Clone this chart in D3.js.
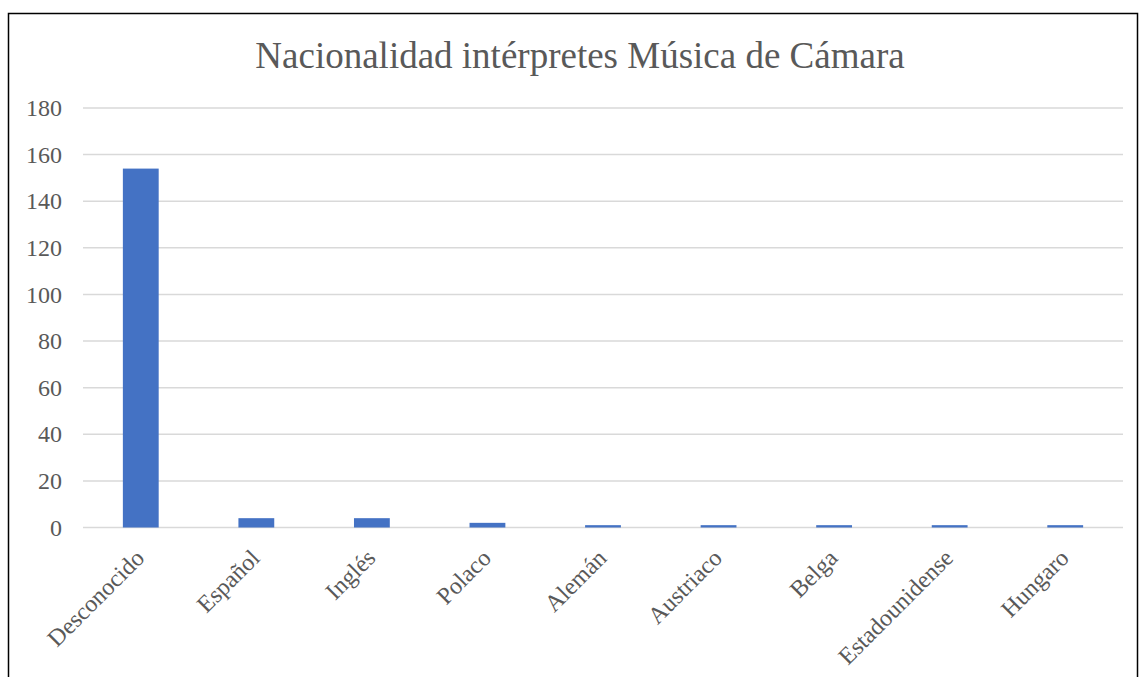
<!DOCTYPE html>
<html>
<head>
<meta charset="utf-8">
<script src="https://cdn.jsdelivr.net/npm/d3@7"></script>
<style>
  body { margin: 0; background: #fff; }
</style>
</head>
<body>
<div id="chart"></div>
<script>
// datos
var categorias = ["Desconocido", "Español", "Inglés", "Polaco", "Alemán", "Austriaco", "Belga", "Estadounidense", "Hungaro"];
var valores = [154, 4, 4, 2, 1, 1, 1, 1, 1];
var ticksY = [0, 20, 40, 60, 80, 100, 120, 140, 160, 180];
var titulo = "Nacionalidad intérpretes Música de Cámara";

var width = 1139,
    height = 677;
var fuente = "'Liberation Serif', 'Times New Roman', serif";

var svg = d3.select("#chart").append("svg")
    .attr("width", width)
    .attr("height", height);

// marco
svg.append("rect")
    .attr("x", 8.5)
    .attr("y", 13.5)
    .attr("width", 1129)
    .attr("height", 700)
    .attr("fill", "none")
    .attr("stroke", "#000")
    .attr("stroke-width", 1.5);

var plotLeft = 83, plotRight = 1123, plotTop = 108, plotBottom = 527.5;

var x = d3.scaleBand()
    .domain(categorias)
    .range([plotLeft, plotRight])
    .paddingInner(0.69)
    .paddingOuter(0.345);

var y = d3.scaleLinear()
    .domain([0, 180])
    .range([plotBottom, plotTop]);

// rejilla
svg.append("g")
    .selectAll("line")
    .data(ticksY)
    .enter().append("line")
    .attr("x1", plotLeft)
    .attr("x2", plotRight)
    .attr("y1", function(d) { return y(d); })
    .attr("y2", function(d) { return y(d); })
    .attr("stroke", "#d9d9d9")
    .attr("stroke-width", 1.5);

// eje Y
var yAxis = d3.axisLeft(y)
    .tickValues(ticksY)
    .tickSize(0)
    .tickPadding(21);

var gy = svg.append("g")
    .attr("transform", "translate(" + plotLeft + ",0)")
    .call(yAxis);
gy.select(".domain").remove();
gy.selectAll("text")
    .style("font-size", "24px")
    .style("font-family", fuente)
    .attr("fill", "#595959");

// barras
svg.append("g")
    .selectAll("rect")
    .data(valores)
    .enter().append("rect")
    .attr("x", function(d, i) { return x(categorias[i]); })
    .attr("y", function(d) { return y(d); })
    .attr("width", x.bandwidth())
    .attr("height", function(d) { return y(0) - y(d); })
    .attr("fill", "#4472c4");

// eje X (etiquetas giradas)
svg.append("g")
    .selectAll("text")
    .data(categorias)
    .enter().append("text")
    .attr("transform", function(d) {
        return "translate(" + (x(d) + x.bandwidth() / 2 - 1) + "," + (plotBottom + 26) + ") rotate(-45)";
    })
    .attr("text-anchor", "end")
    .attr("dy", "0.35em")
    .attr("fill", "#595959")
    .style("font-family", fuente)
    .style("font-size", "24px")
    .text(function(d) { return d; });

// título
svg.append("text")
    .attr("x", 580)
    .attr("y", 68)
    .attr("text-anchor", "middle")
    .attr("fill", "#595959")
    .style("font-family", fuente)
    .style("font-size", "37px")
    .text(titulo);
</script>
</body>
</html>
